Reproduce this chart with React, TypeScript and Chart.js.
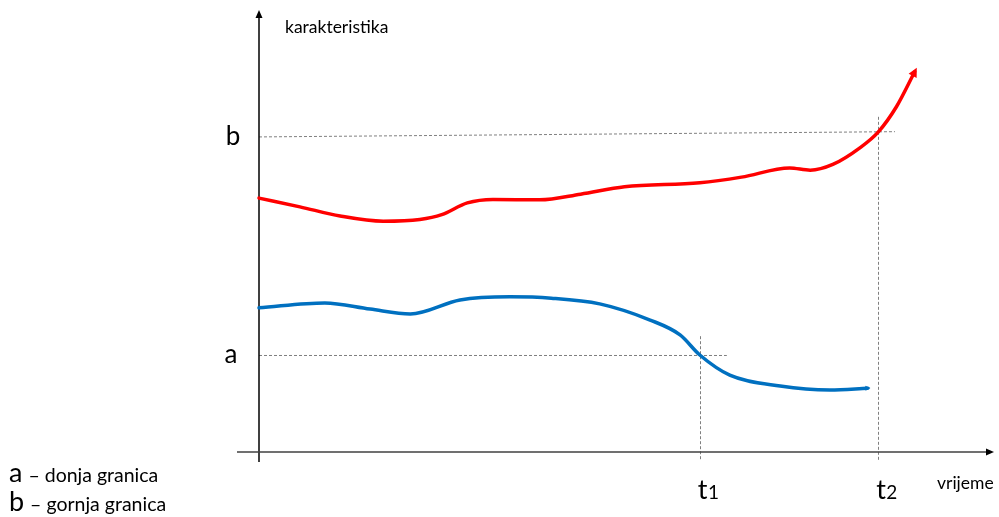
import { useEffect, useRef } from "react";
import { Chart, registerables } from "chart.js";
Chart.register(...registerables);

// time units (0..100) and characteristic units (0..100)
const redTime = [0, 5.6, 11.1, 17.0, 22.0, 25.0, 28.5, 32.0, 38.4, 44.0, 50.0, 60.3, 66.0, 72.6, 75.4, 78.5, 82.2, 84.7, 87.2, 89.7];
const redValues = [58.1, 56.1, 54.0, 52.8, 53.2, 54.3, 57.0, 57.8, 57.7, 59.0, 60.7, 61.6, 62.9, 65.0, 64.5, 65.8, 69.6, 73.2, 79.0, 87.0];
const blueTime = [0, 9.0, 15.2, 20.7, 27.5, 34.3, 40.0, 46.6, 53.5, 57.6, 60.3, 64.4, 71.3, 78.1, 83.3];
const blueValues = [33.0, 34.1, 32.7, 31.6, 34.8, 35.5, 35.2, 33.9, 30.2, 26.8, 22.2, 17.6, 15.1, 14.2, 14.6];

const lowerBound = 22.2; // a
const upperBoundStart = 72.1; // b (left end)
const upperBoundEnd = 73.3; // b (right end)
const lowerLineEnd = 64.0;
const upperLineEnd = 87.0;
const t1 = 60.3;
const t2 = 84.7;
const t1Top = 26.5;
const t2Top = 76.7;
const yAxisLabel = "karakteristika";
const xAxisLabel = "vrijeme";
const legendLines = [
  ["a", " – donja granica"],
  ["b", " – gornja granica"],
];

const FONT = "Lato, 'Open Sans', sans-serif";

function arrowHead(ctx: CanvasRenderingContext2D, x: number, y: number, ang: number, len: number, w: number, color: string) {
  ctx.save();
  ctx.translate(x, y);
  ctx.rotate(ang);
  ctx.fillStyle = color;
  ctx.beginPath();
  ctx.moveTo(len * 0.5, 0);
  ctx.lineTo(-len * 0.5, -w / 2);
  ctx.lineTo(-len * 0.5, w / 2);
  ctx.closePath();
  ctx.fill();
  ctx.restore();
}

const decorPlugin = {
  id: "decor",
  beforeDatasetsDraw(chart: any) {
    const ctx: CanvasRenderingContext2D = chart.ctx;
    const xs = chart.scales.x;
    const ys = chart.scales.y;
    const X = (v: number) => xs.getPixelForValue(v);
    const Y = (v: number) => ys.getPixelForValue(v);
    ctx.save();
    // dashed guides
    ctx.strokeStyle = "#7f7f7f";
    ctx.lineWidth = 1;
    ctx.setLineDash([3, 2]);
    ctx.beginPath();
    ctx.moveTo(X(0), Y(upperBoundStart));
    ctx.lineTo(X(upperLineEnd), Y(upperBoundEnd));
    ctx.moveTo(X(0), Y(lowerBound) + 0.5);
    ctx.lineTo(X(lowerLineEnd), Y(lowerBound) + 0.5);
    ctx.moveTo(Math.round(X(t1)) + 0.5, Y(t1Top));
    ctx.lineTo(Math.round(X(t1)) + 0.5, Y(0) + 8);
    ctx.moveTo(Math.round(X(t2)) + 0.5, Y(t2Top));
    ctx.lineTo(Math.round(X(t2)) + 0.5, Y(0) + 8);
    ctx.stroke();
    ctx.setLineDash([]);

    // axes
    const ox = X(0);
    const oy = Y(0);
    ctx.strokeStyle = "#000";
    ctx.lineWidth = 1.5;
    ctx.beginPath();
    ctx.moveTo(ox, oy + 10);
    ctx.lineTo(ox, Y(100) + 2);
    ctx.stroke();
    ctx.strokeStyle = "#404040";
    ctx.lineWidth = 1.3;
    ctx.beginPath();
    ctx.moveTo(ox - 22, oy);
    ctx.lineTo(X(100) - 3, oy);
    ctx.stroke();
    arrowHead(ctx, ox, Y(100) - 1, -Math.PI / 2, 8, 7, "#000");
    arrowHead(ctx, X(100), oy, 0, 8, 7, "#000");

    // texts
    ctx.fillStyle = "#000";
    ctx.textBaseline = "middle";
    ctx.textAlign = "left";
    ctx.font = `17.5px ${FONT}`;
    ctx.fillText(yAxisLabel, ox + 26, Y(100) + 12);
    ctx.font = `17.5px ${FONT}`;
    ctx.fillText(xAxisLabel, X(100) - 53, oy + 31);

    ctx.font = `26px ${FONT}`;
    ctx.textAlign = "center";
    ctx.fillText("b", ox - 26, Y(upperBoundStart));
    ctx.fillText("a", ox - 28, Y(lowerBound));

    const tLabel = (x: number, sub: string) => {
      ctx.textAlign = "left";
      ctx.textBaseline = "alphabetic";
      ctx.font = `27px ${FONT}`;
      const w = ctx.measureText("t").width;
      const x0 = x - 2;
      ctx.fillText("t", x0, oy + 47);
      ctx.font = `19px ${FONT}`;
      ctx.fillText(sub, x0 + w + 0.5, oy + 47);
    };
    tLabel(X(t1), "1");
    tLabel(X(t2), "2");

    // legend text
    ctx.textAlign = "left";
    ctx.textBaseline = "alphabetic";
    legendLines.forEach((ln, i) => {
      const by = 482 + i * 29;
      ctx.font = `27px ${FONT}`;
      ctx.fillText(ln[0], 9, by);
      const w = ctx.measureText(ln[0]).width;
      ctx.font = `19.5px ${FONT}`;
      ctx.fillText(ln[1], 9 + w + 1, by);
    });
    ctx.restore();
  },
  afterDatasetsDraw(chart: any) {
    const ctx: CanvasRenderingContext2D = chart.ctx;
    const meta0 = chart.getDatasetMeta(0).data;
    const meta1 = chart.getDatasetMeta(1).data;
    const a = meta0[meta0.length - 2];
    const b = meta0[meta0.length - 1];
    const ang = Math.atan2(b.y - a.y, b.x - a.x);
    arrowHead(ctx, b.x, b.y, ang, 9, 9, "#ff0000");
    const c = meta1[meta1.length - 2];
    const d = meta1[meta1.length - 1];
    arrowHead(ctx, d.x, d.y, Math.atan2(d.y - c.y, d.x - c.x), 5, 5, "#0070c0");
  },
};

export default function App() {
  const ref = useRef<HTMLCanvasElement>(null);
  useEffect(() => {
    if (!ref.current) return;
    const chart = new Chart(ref.current, {
      type: "line",
      data: {
        datasets: [
          {
            label: "gornja",
            data: redTime.map((t, i) => ({ x: t, y: redValues[i] })),
            borderColor: "#ff0000",
            borderWidth: 3.5,
            pointRadius: 0,
            cubicInterpolationMode: "monotone",
            fill: false,
            borderCapStyle: "round",
            clip: false as any,
          },
          {
            label: "donja",
            data: blueTime.map((t, i) => ({ x: t, y: blueValues[i] })),
            borderColor: "#0070c0",
            borderWidth: 3.5,
            pointRadius: 0,
            cubicInterpolationMode: "monotone",
            fill: false,
            borderCapStyle: "round",
            clip: false as any,
          },
        ],
      },
      options: {
        animation: false,
        responsive: false,
        devicePixelRatio: 1,
        layout: { padding: { left: 259, right: 9, top: 15, bottom: 65 } },
        plugins: { legend: { display: false }, tooltip: { enabled: false } },
        scales: {
          x: { type: "linear", min: 0, max: 100, display: false },
          y: { type: "linear", min: 0, max: 100, display: false },
        },
      },
      plugins: [decorPlugin],
    });
    return () => chart.destroy();
  }, []);
  return (
    <div style={{ position: "absolute", left: 0, top: 0, width: 999, height: 517, background: "#fff" }}>
      <canvas ref={ref} width={999} height={517} style={{ width: 999, height: 517, display: "block" }} />
    </div>
  );
}
